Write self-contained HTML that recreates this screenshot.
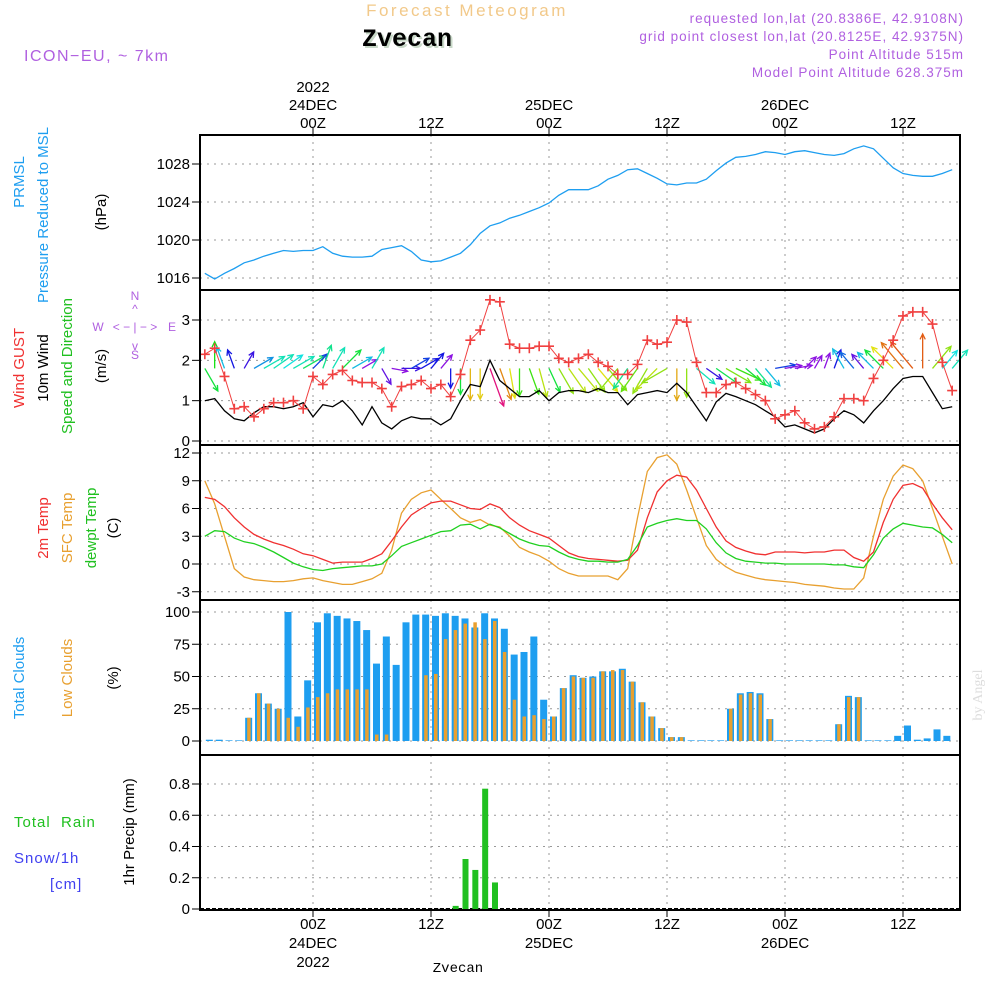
<!DOCTYPE html>
<html><head><meta charset="utf-8"><style>
html,body{margin:0;padding:0;background:#fff;width:1000px;height:1000px;overflow:hidden}
svg{display:block;font-family:"Liberation Sans",sans-serif}
</style></head><body>
<svg id="chart" width="1000" height="1000" viewBox="0 0 1000 1000">
<text x="467" y="16" font-size="17" fill="#f2c98a" text-anchor="middle" letter-spacing="2.5">Forecast Meteogram</text>
<text x="409" y="48" font-size="25" font-weight="bold" font-family="Liberation Mono,monospace" fill="#c8d8c8" text-anchor="middle">Zvecan</text>
<text x="407" y="46" font-size="25" font-weight="bold" font-family="Liberation Mono,monospace" fill="#000" text-anchor="middle">Zvecan</text>
<text x="24" y="61" font-size="16" fill="#b060e0" letter-spacing="1.5">ICON−EU, ~ 7km</text>
<g font-size="13.5" fill="#b060e0" text-anchor="end" letter-spacing="1">
<text x="964" y="23">requested lon,lat (20.8386E, 42.9108N)</text>
<text x="964" y="41">grid point closest lon,lat (20.8125E, 42.9375N)</text>
<text x="964" y="59">Point Altitude 515m</text>
<text x="964" y="77">Model Point Altitude 628.375m</text>
</g>
<g id="grid"></g>
<g id="marks"></g>
<g id="frames"></g>
<g id="axes" font-size="15" fill="#000"></g>
<g font-size="15">
<text transform="translate(24,182) rotate(-90)" fill="#1e9ef0" text-anchor="middle">PRMSL</text>
<text transform="translate(48,215) rotate(-90)" fill="#1e9ef0" text-anchor="middle">Pressure Reduced to MSL</text>
<text transform="translate(106,212) rotate(-90)" fill="#000" text-anchor="middle">(hPa)</text>
<text transform="translate(24,368) rotate(-90)" fill="#f03030" text-anchor="middle">Wind GUST</text>
<text transform="translate(48,368) rotate(-90)" fill="#000" text-anchor="middle">10m Wind</text>
<text transform="translate(72,366) rotate(-90)" fill="#20c020" text-anchor="middle">Speed and Direction</text>
<text transform="translate(106,366) rotate(-90)" fill="#000" text-anchor="middle">(m/s)</text>
<text transform="translate(48,528) rotate(-90)" fill="#f03030" text-anchor="middle">2m Temp</text>
<text transform="translate(72,528) rotate(-90)" fill="#e8a030" text-anchor="middle">SFC Temp</text>
<text transform="translate(96,528) rotate(-90)" fill="#20c020" text-anchor="middle">dewpt Temp</text>
<text transform="translate(118,528) rotate(-90)" fill="#000" text-anchor="middle">(C)</text>
<text transform="translate(24,678) rotate(-90)" fill="#1e9ef0" text-anchor="middle">Total Clouds</text>
<text transform="translate(72,678) rotate(-90)" fill="#e8a030" text-anchor="middle">Low Clouds</text>
<text transform="translate(118,678) rotate(-90)" fill="#000" text-anchor="middle">(%)</text>
<text x="14" y="827" fill="#20c020" xml:space="preserve" letter-spacing="1">Total  Rain</text>
<text x="14" y="863" fill="#4040f0" letter-spacing="1">Snow/1h</text>
<text x="50" y="889" fill="#4040f0" letter-spacing="1">[cm]</text>
<text transform="translate(134,832) rotate(-90)" fill="#000" text-anchor="middle">1hr Precip (mm)</text>
</g>
<g font-size="12" fill="#b060e0" text-anchor="middle">
<text x="135" y="300">N</text><text x="135" y="313">^</text><text x="135" y="359">S</text><text x="135" y="350">v</text>
<text x="98" y="331">W</text><text x="172" y="331">E</text>
<text x="135" y="331" xml:space="preserve">&lt; − | − &gt;</text>
</g>
<text transform="translate(982,695) rotate(-90)" font-size="14" fill="#ddd" text-anchor="middle" font-family="Liberation Serif,serif">by Angel</text>
<text x="458" y="972" font-size="14" font-family="Liberation Mono,monospace" text-anchor="middle">Zvecan</text>
</svg>
<script>
const hourStart = -11;
const pressure = [1016.5,1015.9,1016.5,1017,1017.6,1017.9,1018.3,1018.6,1018.9,1018.8,1018.9,1018.9,1019.3,1018.6,1018.3,1018.2,1018.2,1018.3,1019.0,1019.2,1019.4,1018.8,1017.9,1017.7,1017.8,1018.2,1018.6,1019.5,1020.7,1021.5,1021.8,1022.3,1022.6,1023.0,1023.4,1023.9,1024.7,1025.3,1025.3,1025.3,1025.7,1026.4,1026.8,1027.4,1027.5,1027.0,1026.5,1025.9,1025.8,1026.0,1026.0,1026.4,1027.3,1028.1,1028.7,1028.8,1029.0,1029.3,1029.2,1029.0,1029.3,1029.4,1029.2,1029.0,1028.9,1029.1,1029.6,1029.9,1029.6,1028.6,1027.6,1027.0,1026.8,1026.7,1026.7,1027.0,1027.4];
const wind10m = [1.0,1.05,0.75,0.55,0.5,0.7,0.85,0.85,0.8,0.85,0.95,
0.6,0.9,0.85,1.0,0.75,0.4,0.85,0.45,0.3,0.5,
0.6,0.55,0.55,0.4,0.55,1.0,1.4,1.35,2.0,1.5,
1.3,1.1,1.1,1.25,1.0,1.2,1.25,1.25,1.2,1.3,
1.2,1.2,0.9,1.15,1.2,1.25,1.2,1.43,1.2,0.85,
0.5,0.97,1.18,1.1,1.0,0.9,0.75,0.6,0.35,0.4,
0.3,0.2,0.3,
0.55,0.75,0.65,0.45,0.75,1.0,1.3,1.55,1.6,1.6,1.2,0.8,0.85];
const windGust = [2.15,2.3,1.6,0.8,0.85,0.6,0.8,0.95,0.95,1.0,0.8,1.6,1.4,1.65,1.75,1.5,1.45,1.45,1.3,0.85,1.35,1.4,1.5,1.3,1.4,1.1,1.65,2.5,2.75,3.5,3.45,2.4,2.3,2.3,2.35,2.35,2.05,1.95,2.05,2.15,1.95,1.85,1.65,1.65,1.9,2.5,2.4,2.45,3.0,2.95,1.95,1.2,1.2,1.4,1.45,1.3,1.15,1.0,0.55,0.65,0.75,0.45,0.3,0.35,0.6,1.05,1.05,1.0,1.55,2.0,2.5,3.1,3.2,3.2,2.9,1.95,1.25];
const windDir = [150,0,-20,-20,30,60,60,55,55,60,60,45,20,30,45,60,60,30,150,100,90,60,60,40,40,180,180,180,180,160,160,170,180,160,165,155,150,145,140,145,140,140,220,215,215,210,225,240,180,180,130,125,125,120,115,130,140,140,80,80,80,45,30,20,20,-30,-40,-40,-45,-45,-45,-40,-40,0,40,40,40];
const temp2m = [7.2,7.0,6.2,5.0,4.0,3.2,2.7,2.3,2.0,1.6,1.1,0.9,0.5,0.1,0.2,0.2,0.2,0.6,1.1,2.5,4.0,5.3,6.0,6.6,6.8,6.8,6.4,6.0,5.9,6.5,6.1,5.0,4.2,3.6,3.2,2.8,2.0,1.2,0.8,0.6,0.5,0.4,0.3,0.4,1.5,5.0,7.8,9.0,9.6,9.4,8.0,6.0,4.0,2.5,1.8,1.4,1.1,1.0,1.3,1.3,1.3,1.2,1.3,1.3,1.5,1.5,0.7,0.3,1.3,4.5,7.0,8.5,8.7,8.2,6.5,5.0,3.7];
const tempSfc = [9.0,6.5,3.0,-0.5,-1.4,-1.7,-1.8,-1.9,-1.9,-1.8,-1.6,-1.5,-1.8,-2.0,-2.2,-2.2,-1.9,-1.6,-1.0,1.5,5.5,7.0,7.7,8.0,7.0,6.0,5.0,4.5,4.8,4.2,4.0,3.0,1.8,1.3,0.9,0.3,-0.5,-1.0,-1.3,-1.3,-1.3,-1.3,-1.7,-0.5,5.0,10.0,11.5,11.8,10.8,8.0,5.0,2.0,0.5,-0.3,-0.9,-1.2,-1.5,-1.7,-1.8,-1.9,-2.0,-2.2,-2.3,-2.4,-2.6,-2.7,-2.7,-1.5,3.0,7.0,9.5,10.7,10.3,9.0,6.0,3.0,0.0];
const dewpt = [3.0,3.6,3.5,2.8,2.4,2.2,1.8,1.3,0.7,0.1,-0.3,-0.6,-0.7,-0.5,-0.4,-0.3,-0.2,-0.2,0.0,0.9,1.9,2.3,2.7,3.1,3.5,3.6,4.2,4.3,3.8,4.3,3.9,3.3,2.7,2.3,2.0,1.9,1.3,0.8,0.5,0.3,0.3,0.2,0.2,0.5,2.0,4.0,4.4,4.7,4.9,4.7,4.7,3.8,2.3,1.2,0.6,0.3,0.2,0.1,0.1,0.0,0.0,0.0,0.0,0.0,-0.1,-0.1,-0.3,-0.4,1.0,2.8,3.8,4.4,4.2,4.0,3.9,3.2,2.3];
const totalClouds = [1,1,0.5,0.5,18,37,29,25,100,19,47,92,99,97,95,93,86,60,81,59,92,98,98,97,99,97,95,88,99,95,87,67,69,81,32,19,41,51,49,50,54,54,56,46,30,19,10,3,3,0.5,0.5,0.5,0.5,25,37,38,37,17,0.5,0.5,0.5,0.5,0.5,0.5,13,35,34,0.5,0.5,0.5,4,12,1,2,9,4];
const lowClouds = [0,0,0,0,18,37,29,25,18,11,26,34,37,40,40,40,40,5,5,0,0,0,51,52,79,86,91,92,79,93,69,32,19,20,17,19,41,50,49,49,54,55,55,46,30,19,10,3,3,0,0,0,0,25,36,37,36,17,0,0,0,0,0,0,13,34,34,0,0,0,0,0,0,0,0,0];
const precipHours = [14,15,16,17,18];
const precipValues = [0.02,0.32,0.25,0.77,0.17];
const pressTicks = [1016,1020,1024,1028];
const windTicks = [0,1,2,3];
const tempTicks = [-3,0,3,6,9,12];
const cloudTicks = [0,25,50,75,100];
const precipTicks = [0,0.2,0.4,0.6,0.8];
const timeTicks = [0,12,24,36,48,60];
const timeLabels = ["00Z","12Z","00Z","12Z","00Z","12Z"];
const dayLabels = ["24DEC","","25DEC","","26DEC",""];

const NS="http://www.w3.org/2000/svg";
const X0=200,X1=960;
const xs = t => 313 + t*(118/12);
function lin(d0,d1,r0,r1){return v=>r0+(v-d0)*(r1-r0)/(d1-d0);}
const yP=lin(1016,1028,278,164), yW=lin(0,3,441,320), yT=lin(0,12,564,453), yC=lin(0,100,741,612), yR=lin(0,0.8,909,784);
const panels=[[135,290],[290,445],[445,600],[600,755],[755,910]];
function el(tag,attrs,parent){const e=document.createElementNS(NS,tag);for(const k in attrs)e.setAttribute(k,attrs[k]);parent.appendChild(e);return e;}
const grid=document.getElementById('grid'),marks=document.getElementById('marks'),frames=document.getElementById('frames'),axes=document.getElementById('axes');
panels.forEach(p=>{timeTicks.forEach(t=>{const l=el('line',{x1:xs(t),x2:xs(t),y1:p[0],y2:p[1],stroke:'#999','stroke-dasharray':'2,5'},grid);

});});
function yaxis(ticks,ys,fmt,name){ticks.forEach(v=>{const y=ys(v);
const g=el('line',{x1:X0,x2:X1,y1:y,y2:y,stroke:'#999','stroke-dasharray':'2,5'},grid);


el('line',{x1:X0-8,x2:X0,y1:y,y2:y,stroke:'#000'},axes);
const tx=el('text',{x:X0-10,y:y+5,'text-anchor':'end'},axes);tx.textContent=fmt(v);

});}
yaxis(pressTicks,yP,v=>v,'pressure');
yaxis(windTicks,yW,v=>v,'wind');
yaxis(tempTicks,yT,v=>v,'temp');
yaxis(cloudTicks,yC,v=>v,'cloud');
yaxis(precipTicks,yR,v=>v===0?'0':v.toFixed(1),'precip');
panels.forEach(p=>{const r=el('rect',{x:X0,y:p[0],width:X1-X0,height:p[1]-p[0],fill:'none',stroke:'#000','stroke-width':2},frames);

});
timeTicks.forEach((t,i)=>{const x=xs(t);
el('line',{x1:x,x2:x,y1:135,y2:128,stroke:'#000'},axes);
el('line',{x1:x,x2:x,y1:910,y2:917,stroke:'#000'},axes);
const a=el('text',{x:x,y:128,'text-anchor':'middle'},axes);a.textContent=timeLabels[i];


const b=el('text',{x:x,y:929,'text-anchor':'middle'},axes);b.textContent=timeLabels[i];


if(dayLabels[i]){const c=el('text',{x:x,y:110,'text-anchor':'middle'},axes);c.textContent=dayLabels[i];


const d=el('text',{x:x,y:948,'text-anchor':'middle'},axes);d.textContent=dayLabels[i];

}
if(i===0){const e=el('text',{x:x,y:92,'text-anchor':'middle'},axes);e.textContent='2022';


const f=el('text',{x:x,y:967,'text-anchor':'middle'},axes);f.textContent='2022';

}});
function line(arr,ys,color,name,w){const pts=arr.map((v,i)=>xs(hourStart+i).toFixed(1)+','+ys(v).toFixed(1)).join(' ');
const p=el('polyline',{points:pts,fill:'none',stroke:color,'stroke-width':w||1.3},marks);

return p;}
line(pressure,yP,'#1e9ef0','pressure-line');
totalClouds.forEach((v,i)=>{const x=xs(hourStart+i);
const r=el('rect',{x:x+1,y:yC(v),width:7,height:yC(0)-yC(v),fill:'#1e9ef0'},marks);


const lv=lowClouds[i];if(lv>0){const o=el('rect',{x:x+3,y:yC(lv),width:3.5,height:yC(0)-yC(lv),fill:'#e8a030'},marks);

}});
el('line',{x1:X0,x2:X1,y1:yR(0),y2:yR(0),stroke:'#000','stroke-width':2,'stroke-dasharray':'4,2'},marks);
precipHours.forEach((h,i)=>{const x=xs(h);const v=precipValues[i];
const r=el('rect',{x:x+2,y:yR(v),width:6,height:yR(0)-yR(v),fill:'#20c020'},marks);

});
line(tempSfc,yT,'#e8a030','sfc-temp-line');
line(temp2m,yT,'#f03030','temp-2m-line');
line(dewpt,yT,'#20d020','dewpoint-line');
function spdColor(s){let h; if(s<0.4)h=275; else if(s<1.3)h=275-(s-0.4)*239; else h=60-(s-1.3)*130; h=(h+360)%360; return 'hsl('+h+',85%,48%)';}
const by=yW(1.8);
windDir.forEach((d,i)=>{const x=xs(hourStart+i);const s=wind10m[Math.min(i,wind10m.length-1)];const L=12+s*14;const a=d*Math.PI/180;
const x2=x+L*Math.sin(a),y2=by-L*Math.cos(a);const c=spdColor(s);
const g=el('g',{stroke:c,'stroke-width':1.3,fill:'none'},marks);


el('line',{x1:x,y1:by,x2:x2,y2:y2},g);
const h1=a+Math.PI-0.45,h2=a+Math.PI+0.45;
el('polyline',{points:(x2+6*Math.sin(h1))+','+(y2-6*Math.cos(h1))+' '+x2+','+y2+' '+(x2+6*Math.sin(h2))+','+(y2-6*Math.cos(h2))},g);});
line(wind10m,yW,'#000','wind-10m-line');
line(windGust,yW,'#f04040','wind-gust-line',1);
windGust.forEach((v,i)=>{const x=xs(hourStart+i),y=yW(v);
const g=el('path',{d:`M${x-5},${y}h10M${x},${y-5}v10`,stroke:'#f04040','stroke-width':1.6},marks);

});
</script>
</body></html>
